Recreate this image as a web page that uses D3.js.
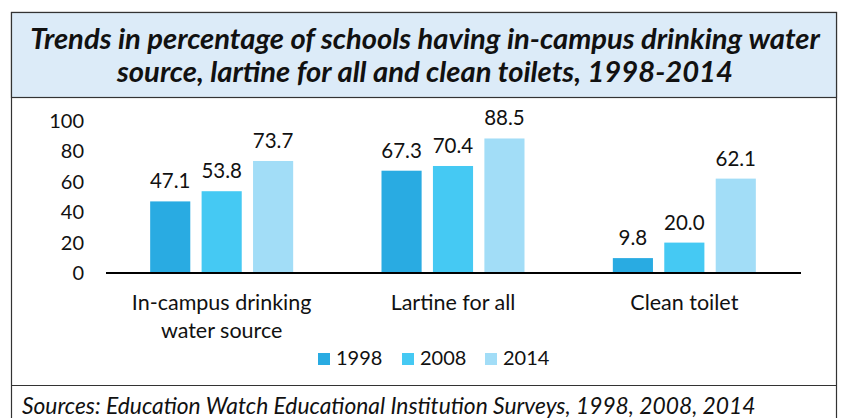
<!DOCTYPE html>
<html>
<head>
<meta charset="utf-8">
<script src="https://cdn.jsdelivr.net/npm/d3@7"></script>
<style>
  body { margin: 0; background: #fff; }
  text { font-family: Lato, "Open Sans", sans-serif; fill: #111; }
</style>
</head>
<body>
<div id="chart"></div>
<script>
// data
const categories = ['In-campus drinking|water source', 'Lartine for all', 'Clean toilet']
const years = ['1998', '2008', '2014']
const values1998 = [47.1, 67.3, 9.8]
const values2008 = [53.8, 70.4, 20.0]
const values2014 = [73.7, 88.5, 62.1]
const yTicks = [0, 20, 40, 60, 80, 100]
const colors = ['#29abe2', '#45c9f3', '#a2ddf7']

const W = 842
const H = 418
const series = [values1998, values2008, values2014]

const svg = d3.select('#chart').append('svg')
  .attr('width', W)
  .attr('height', H)

// frame + title box
svg.append('rect')
  .attr('x', 11.5).attr('y', 12.5)
  .attr('width', 825).attr('height', 410)
  .attr('fill', 'none').attr('stroke', '#333').attr('stroke-width', 1.2)
svg.append('rect')
  .attr('x', 11.5).attr('y', 12.5)
  .attr('width', 825).attr('height', 85)
  .attr('fill', '#dcebf8').attr('stroke', '#333').attr('stroke-width', 1.2)
svg.append('line')
  .attr('x1', 11).attr('x2', 837).attr('y1', 385.5).attr('y2', 385.5)
  .attr('stroke', '#333').attr('stroke-width', 1.2)

const title = ['Trends in percentage of schools having in-campus drinking water',
  'source, lartine for all and clean toilets, 1998-2014']
svg.append('g').selectAll('text')
  .data(title)
  .join('text')
  .attr('x', 425)
  .attr('y', (d, i) => 49 + i * 33)
  .attr('text-anchor', 'middle')
  .style('font-size', '29.2px')
  .style('font-weight', 'bold')
  .style('font-style', 'italic')
  .text(d => d)

// scales
const x = d3.scaleBand()
  .domain(categories)
  .range([106, 800])

const xInner = d3.scaleBand()
  .domain(years)
  .range([0, 143])
  .paddingInner(0.22)

const y = d3.scaleLinear()
  .domain([0, 100])
  .range([273, 121])

// y axis labels (no axis line)
const yAxis = d3.axisLeft(y).tickValues(yTicks).tickSize(0).tickPadding(0)
const gy = svg.append('g')
  .attr('transform', 'translate(84,0)')
  .call(yAxis)
gy.select('.domain').remove()
gy.selectAll('text')
  .style('font-size', '20px')
  .attr('fill', '#111')

// bars
const groups = svg.append('g').selectAll('g')
  .data(categories)
  .join('g')
  .attr('transform', d => 'translate(' + (x(d) + x.bandwidth() / 2 - 71.5) + ',0)')

groups.each(function (cat, ci) {
  const g = d3.select(this)
  const rows = years.map((yr, si) => ({ yr: yr, v: series[si][ci], c: colors[si] }))
  g.selectAll('rect')
    .data(rows)
    .join('rect')
    .attr('x', d => xInner(d.yr))
    .attr('y', d => y(d.v))
    .attr('width', xInner.bandwidth())
    .attr('height', d => y(0) - y(d.v))
    .attr('fill', d => d.c)
  g.selectAll('text')
    .data(rows)
    .join('text')
    .attr('x', d => xInner(d.yr) + xInner.bandwidth() / 2)
    .attr('y', d => y(d.v) - 13)
    .attr('text-anchor', 'middle')
    .style('font-size', '20.5px')
    .text(d => d.v.toFixed(1))
})

// baseline
svg.append('line')
  .attr('x1', 106).attr('x2', 801)
  .attr('y1', y(0)).attr('y2', y(0))
  .attr('stroke', '#000').attr('stroke-width', 2)

// category labels
svg.append('g').selectAll('text')
  .data(categories)
  .join('text')
  .attr('x', d => x(d) + x.bandwidth() / 2)
  .attr('y', 310)
  .attr('text-anchor', 'middle')
  .style('font-size', '21.5px')
  .selectAll('tspan')
  .data(d => d.split('|'))
  .join('tspan')
  .attr('x', function () { return d3.select(this.parentNode).attr('x') })
  .attr('dy', (d, i) => i === 0 ? 0 : 28)
  .text(d => d)

// legend
const legendX = [318, 402, 485]
const legend = svg.append('g').selectAll('g')
  .data(years)
  .join('g')
  .attr('transform', (d, i) => 'translate(' + legendX[i] + ',353)')
legend.append('rect')
  .attr('width', 12).attr('height', 12)
  .attr('fill', (d, i) => colors[i])
legend.append('text')
  .attr('x', 18).attr('y', 12)
  .style('font-size', '20px')
  .text(d => d)

// source
svg.append('text')
  .attr('x', 22).attr('y', 414)
  .style('font-size', '22.8px')
  .style('font-style', 'italic')
  .text('Sources: Education Watch Educational Institution Surveys, 1998, 2008, 2014')
</script>
</body>
</html>
